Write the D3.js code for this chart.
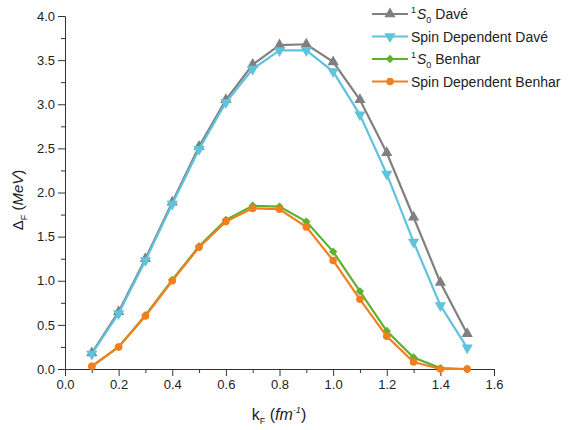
<!doctype html>
<html>
<head>
<meta charset="utf-8">
<script src="https://d3js.org/d3.v7.min.js"></script>
<style>
  body { margin: 0; background: #fff; font-family: "Liberation Sans", Arial, sans-serif; }
  .axis text { font-size: 13px; fill: #222; font-family: "Liberation Sans", Arial, sans-serif; }
  .axis path, .axis line { stroke: #333; }
</style>
</head>
<body>
<svg id="chart" width="569" height="430"></svg>
<script>
const kF = [0.1, 0.2, 0.3, 0.4, 0.5, 0.6, 0.7, 0.8, 0.9, 1.0, 1.1, 1.2, 1.3, 1.4, 1.5];
const s0Dave = [0.18, 0.65, 1.25, 1.89, 2.52, 3.05, 3.45, 3.67, 3.68, 3.48, 3.05, 2.45, 1.72, 0.98, 0.40];
const spinDave = [0.17, 0.63, 1.23, 1.87, 2.49, 3.02, 3.40, 3.61, 3.61, 3.37, 2.88, 2.21, 1.44, 0.72, 0.24];
const s0Benhar = [0.03, 0.25, 0.61, 1.01, 1.39, 1.69, 1.85, 1.84, 1.67, 1.33, 0.88, 0.43, 0.13, 0.01, 0.0];
const spinBenhar = [0.03, 0.25, 0.60, 1.00, 1.38, 1.67, 1.82, 1.81, 1.61, 1.23, 0.79, 0.37, 0.08, 0.0, 0.0];

const series = [
  { name: "s0Dave", values: s0Dave, color: "#808080", symbol: d3.symbolTriangle, size: 55 },
  { name: "spinDave", values: spinDave, color: "#5fc3dc", symbol: d3.symbolTriangle, size: 55, flip: true },
  { name: "s0Benhar", values: s0Benhar, color: "#5db12f", symbol: d3.symbolDiamond2, size: 45 },
  { name: "spinBenhar", values: spinBenhar, color: "#f27e1e", symbol: d3.symbolCircle, size: 45 }
];

const svg = d3.select("#chart");
const x = d3.scaleLinear().domain([0, 1.6]).range([65, 494]);
const y = d3.scaleLinear().domain([0, 4]).range([369, 16]);

// minor ticks
svg.append("g").attr("class", "axis").attr("transform", "translate(0,369)")
  .call(d3.axisBottom(x).tickValues(d3.range(0.1, 1.6, 0.2)).tickSize(4).tickFormat(""))
  .select(".domain").remove();
svg.append("g").attr("class", "axis").attr("transform", "translate(65,0)")
  .call(d3.axisLeft(y).tickValues(d3.range(0.25, 4, 0.5)).tickSize(4).tickFormat(""))
  .select(".domain").remove();

svg.append("g").attr("class", "axis").attr("transform", "translate(0,369)")
  .call(d3.axisBottom(x).tickValues(d3.range(0, 1.61, 0.2)).tickSize(7).tickPadding(4).tickFormat(d3.format(".1f")));
svg.append("g").attr("class", "axis").attr("transform", "translate(65,0)")
  .call(d3.axisLeft(y).tickValues(d3.range(0, 4.01, 0.5)).tickSize(7).tickPadding(3).tickFormat(d3.format(".1f")));

const line = d3.line().x((d, i) => x(kF[i])).y(d => y(d));

series.forEach(s => {
  svg.append("path").datum(s.values)
    .attr("fill", "none").attr("stroke", s.color).attr("stroke-width", 2.2)
    .attr("d", line);
  svg.selectAll(null).data(s.values).enter().append("path")
    .attr("d", d3.symbol().type(s.symbol).size(s.size))
    .attr("transform", (d, i) => `translate(${x(kF[i])},${y(d)})${s.flip ? " rotate(180)" : ""}`)
    .attr("fill", s.color);
});

// legend
const legend = [
  { idx: 0, parts: [["1", "sup"], ["S", "it"], ["0", "sub"], [" Davé", ""]] },
  { idx: 1, parts: [["Spin Dependent Davé", ""]] },
  { idx: 2, parts: [["1", "sup"], ["S", "it"], ["0", "sub"], [" Benhar", ""]] },
  { idx: 3, parts: [["Spin Dependent Benhar", ""]] }
];
legend.forEach((l, r) => {
  const s = series[l.idx];
  const ly = 14 + r * 22.5;
  const g = svg.append("g");
  g.append("line").attr("x1", 372).attr("x2", 408).attr("y1", ly).attr("y2", ly)
    .attr("stroke", s.color).attr("stroke-width", 2.2);
  g.append("path").attr("d", d3.symbol().type(s.symbol).size(s.size))
    .attr("transform", `translate(390,${ly})${s.flip ? " rotate(180)" : ""}`).attr("fill", s.color);
  const t = g.append("text").attr("x", 411).attr("y", ly + 5).attr("font-size", 14).attr("fill", "#222");
  l.parts.forEach(([txt, kind]) => {
    const ts = t.append("tspan").text(txt);
    if (kind === "sup") ts.attr("font-size", 9).attr("dy", -6);
    if (kind === "it") ts.attr("font-style", "italic").attr("dy", 6).attr("dx", 1);
    if (kind === "sub") ts.attr("font-size", 9).attr("dy", 4);
    if (kind === "" && l.parts.length > 1) ts.attr("dy", -4);
  });
});

// axis titles
const xt = svg.append("text").attr("x", 279).attr("y", 420).attr("text-anchor", "middle")
  .attr("font-size", 16).attr("fill", "#222");
xt.append("tspan").text("k");
xt.append("tspan").text("F").attr("font-size", 9).attr("dy", 4);
xt.append("tspan").text(" (").attr("dy", -4);
xt.append("tspan").text("fm").attr("font-style", "italic");
xt.append("tspan").text("-1").attr("font-style", "italic").attr("font-size", 9).attr("dy", -7);
xt.append("tspan").text(")").attr("dy", 7);

const yt = svg.append("text").attr("transform", "translate(23,200) rotate(-90)")
  .attr("text-anchor", "middle").attr("font-size", 15).attr("fill", "#222");
yt.append("tspan").text("Δ");
yt.append("tspan").text("F").attr("font-size", 9).attr("dy", 4);
yt.append("tspan").text(" (").attr("dy", -4);
yt.append("tspan").text("MeV").attr("font-style", "italic");
yt.append("tspan").text(")");
</script>
</body>
</html>
